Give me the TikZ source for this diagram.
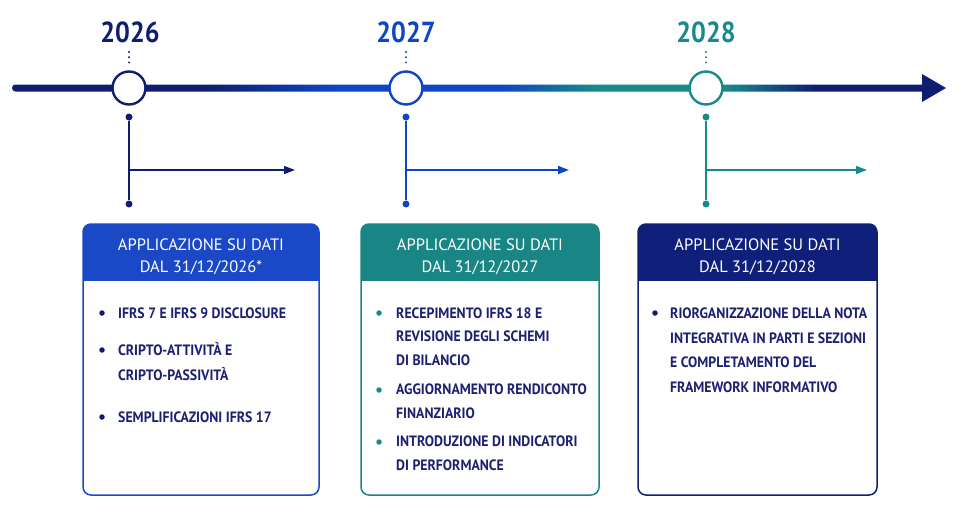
\documentclass[tikz,border=0pt]{standalone}
\usepackage{fontspec}
\setmainfont{PT Sans}
\newfontfamily\yearfont[FakeStretch=0.9]{PT Sans}
\newfontfamily\bodyfont[FakeStretch=0.92]{PT Sans}
\usetikzlibrary{arrows.meta}
\definecolor{navy}{HTML}{0E1D72}
\definecolor{blu}{HTML}{0D45C4}
\definecolor{tealc}{HTML}{178A8C}
\definecolor{txt}{HTML}{1B2070}
\definecolor{hblue}{HTML}{1B48C6}
\definecolor{hteal}{HTML}{1A8585}
\definecolor{hnavy}{HTML}{10207A}
\pgfdeclarehorizontalshading{tlshade}{100bp}{color(0bp)=(navy); color(35.6bp)=(navy); color(42.5bp)=(blu); color(51.5bp)=(blu); color(57bp)=(tealc); color(64bp)=(tealc); color(68.8bp)=(navy); color(100bp)=(navy)}
\tikzset{
  yearlbl/.style={font=\yearfont\bfseries\fontsize{29}{30}\selectfont, anchor=base, inner sep=0pt},
  yearcirc/.style={circle, draw=#1, fill=white, line width=2.4pt, minimum size=33pt, inner sep=0pt},
  smalldot/.style={circle, fill=#1, inner sep=0pt, minimum size=7pt},
  bulletdot/.style={circle, fill=#1, inner sep=0pt, minimum size=5.5pt},
  stem/.style={draw=#1, line width=1.8pt},
  branch/.style={draw=#1, line width=1.5pt, -{Triangle[length=11pt,width=8pt]}},
  dots/.style={draw=#1, line width=2.2pt, line cap=round, dash pattern=on 0pt off 5.2pt},
  hdr/.style={font=\fontsize{16.5}{22}\selectfont, text=white, align=center, anchor=base, inner sep=0pt},
  itemA/.style={font=\bodyfont\bfseries\fontsize{15}{25}\selectfont, text=txt, align=left, anchor=base west, inner sep=0pt},
  itemB/.style={font=\bodyfont\bfseries\fontsize{15}{23.5}\selectfont, text=txt, align=left, anchor=base west, inner sep=0pt},
  itemC/.style={font=\bodyfont\bfseries\fontsize{15}{24.5}\selectfont, text=txt, align=left, anchor=base west, inner sep=0pt},
  cardborder/.style={draw=#1, line width=1.5pt, rounded corners=8pt},
}
\begin{document}
\begin{tikzpicture}[x=1pt, y=-1pt]
\useasboundingbox (0,0) rectangle (964,514);
\fill[white] (0,0) rectangle (964,514);
% timeline
\shade[shading=tlshade, rounded corners=3.5pt] (12,84.5) rectangle (928,91.5);
\fill[navy] (922,74) -- (946,88) -- (922,102) -- cycle;
% year circles
\node[yearcirc=navy] (c1) at (129,88) {};
\node[yearcirc=blu] (c2) at (406,88) {};
\node[yearcirc=tealc] (c3) at (706,88) {};
% years
\node[yearlbl, text=navy] (y1) at (130,42) {2026};
\node[yearlbl, text=blu] (y2) at (406,42) {2027};
\node[yearlbl, text=tealc] (y3) at (706,42) {2028};
\coordinate (y1d) at (129,52); \coordinate (c1d) at (129,62.5);
\coordinate (y2d) at (406,52); \coordinate (c2d) at (406,62.5);
\coordinate (y3d) at (706,52); \coordinate (c3d) at (706,62.5);
\draw[dots=navy] (y1d) -- (c1d);
\draw[dots=blu] (y2d) -- (c2d);
\draw[dots=tealc] (y3d) -- (c3d);
% stems
\node[smalldot=navy] (d1a) at (129,117) {};
\node[smalldot=navy] (d1b) at (129,204) {};
\node[smalldot=blu] (d2a) at (406,117) {};
\node[smalldot=blu] (d2b) at (406,204) {};
\node[smalldot=tealc] (d3a) at (706,117) {};
\node[smalldot=tealc] (d3b) at (706,204) {};
\draw[stem=navy] (d1a) -- (d1b);
\draw[stem=blu] (d2a) -- (d2b);
\draw[stem=tealc] (d3a) -- (d3b);
\coordinate (h1) at (129,170); \coordinate (e1) at (295,170);
\coordinate (h2) at (406,170); \coordinate (e2) at (569,170);
\coordinate (h3) at (706,170); \coordinate (e3) at (867,170);
\draw[branch=navy] (h1) -- (e1);
\draw[branch=blu] (h2) -- (e2);
\draw[branch=tealc] (h3) -- (e3);
% cards
\begin{scope}
\clip[rounded corners=8pt] (83,224) rectangle (319,495);
\fill[hblue] (83,224) rectangle (319,281);
\end{scope}
\draw[cardborder=hblue] (83,224) rectangle (319,495);
\begin{scope}
\clip[rounded corners=8pt] (361,224) rectangle (599,495);
\fill[hteal] (361,224) rectangle (599,281);
\end{scope}
\draw[cardborder=hteal] (361,224) rectangle (599,495);
\begin{scope}
\clip[rounded corners=8pt] (638,224) rectangle (877,495);
\fill[hnavy] (638,224) rectangle (877,281);
\end{scope}
\draw[cardborder=hnavy] (638,224) rectangle (877,495);
% headers (anchor = baseline of last line)
\node[hdr] (hd1) at (201,272) {APPLICAZIONE SU DATI\\DAL 31/12/2026*};
\node[hdr] (hd2) at (480,272) {APPLICAZIONE SU DATI\\DAL 31/12/2027};
\node[hdr] (hd3) at (757.5,272) {APPLICAZIONE SU DATI\\DAL 31/12/2028};
% card 1 items
\node[bulletdot=navy] (p11) at (102,313) {};
\node[itemA] (t11) at (118,318) {IFRS 7 E IFRS 9 DISCLOSURE};
\node[bulletdot=navy] (p12) at (102,350) {};
\node[itemA] (t12) at (118,380) {CRIPTO-ATTIVITÀ E\\CRIPTO-PASSIVITÀ};
\node[bulletdot=navy] (p13) at (102,417) {};
\node[itemA] (t13) at (118,422) {SEMPLIFICAZIONI IFRS 17};
% card 2 items
\node[bulletdot=tealc] (p21) at (379,313) {};
\node[itemB] (t21) at (396,365) {RECEPIMENTO IFRS 18 E\\REVISIONE DEGLI SCHEMI\\DI BILANCIO};
\node[bulletdot=tealc] (p22) at (379,390) {};
\node[itemB] (t22) at (396,418) {AGGIORNAMENTO RENDICONTO\\FINANZIARIO};
\node[bulletdot=tealc] (p23) at (379,442) {};
\node[itemB] (t23) at (396,470) {INTRODUZIONE DI INDICATORI\\DI PERFORMANCE};
% card 3 items
\node[bulletdot=navy] (p31) at (655,313) {};
\node[itemC] (t31) at (670,392) {RIORGANIZZAZIONE DELLA NOTA\\INTEGRATIVA IN PARTI E SEZIONI\\E COMPLETAMENTO DEL\\FRAMEWORK INFORMATIVO};
\end{tikzpicture}
\end{document}
